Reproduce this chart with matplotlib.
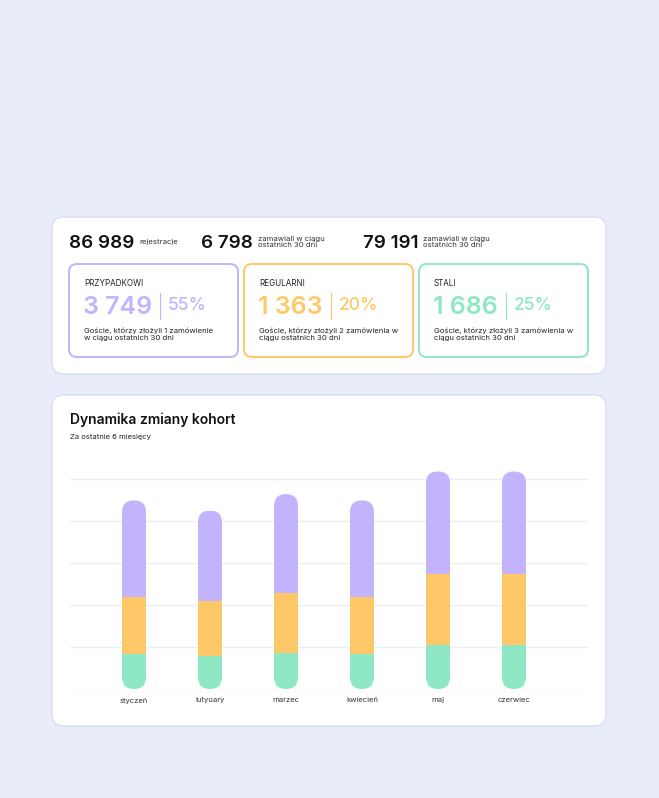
import matplotlib
matplotlib.use("Agg")
import matplotlib.pyplot as plt
from matplotlib.patches import FancyBboxPatch
from matplotlib.transforms import IdentityTransform

plt.rcParams['font.family'] = ['Inter', 'DejaVu Sans']

# data
months = ["styczeń", "lutyuary", "marzec", "kwiecień", "maj", "czerwiec"]
stali = [830, 790, 860, 830, 1050, 1050]
regularni = [1370, 1300, 1420, 1370, 1680, 1680]
przypadkowi = [2290, 2160, 2360, 2290, 2450, 2450]

top_values = ["86 989", "6 798", "79 191"]
top_labels = ["rejestracje", "zamawiali w ciągu\nostatnich 30 dni", "zamawiali w ciągu\nostatnich 30 dni"]

cohort_names = ["PRZYPADKOWI", "REGULARNI", "STALI"]
cohort_values = ["3 749", "1 363", "1 686"]
cohort_pct = ["55%", "20%", "25%"]
cohort_desc = ["Goście, którzy złożyli 1 zamówienie\nw ciągu ostatnich 30 dni",
               "Goście, którzy złożyli 2 zamówienia w\nciągu ostatnich 30 dni",
               "Goście, którzy złożyli 3 zamówienia w\nciągu ostatnich 30 dni"]

PURPLE = "#c3b3fd"
ORANGE = "#fec868"
GREEN = "#8de8c3"
cohort_colors = [PURPLE, ORANGE, GREEN]

W, H = 659, 798
fig = plt.figure(figsize=(W / 100, H / 100), dpi=100)
fig.patch.set_facecolor("#e9edf9")

# background axes in pixel units (origin top-left)
bg = fig.add_axes([0, 0, 1, 1])
bg.set_xlim(0, W)
bg.set_ylim(H, 0)
bg.axis("off")


def card(x, y, w, h, r, edge, lw=1.0):
    p = FancyBboxPatch((x, y), w, h, boxstyle=f"round,pad=0,rounding_size={r}",
                       facecolor="white", edgecolor=edge, linewidth=lw)
    bg.add_patch(p)


card(52, 217, 554, 157, 12, "#d8def6")
card(52, 395, 554, 331, 12, "#d8def6")

# top row of numbers
num_x = [69, 201, 363]
lab_x = [139, 258, 423]
for i in range(3):
    bg.text(num_x[i], 243, top_values[i], fontsize=13.5, fontweight="semibold",
            color="#111111", va="center", ha="left")
    bg.text(lab_x[i], 242, top_labels[i], fontsize=5.6, color="#333333",
            va="center", ha="left", linespacing=1.0)

# cohort boxes
box_x = [69, 244, 419]
fig.canvas.draw()
for i in range(3):
    bx = box_x[i]
    p = FancyBboxPatch((bx, 264), 169, 93, boxstyle="round,pad=0,rounding_size=8",
                       facecolor="white", edgecolor=cohort_colors[i], linewidth=1.4)
    bg.add_patch(p)
    bg.text(bx + 15, 283, cohort_names[i], fontsize=5.8, color="#222222",
            va="center", ha="left")
    t = bg.text(bx + 14, 307, cohort_values[i], fontsize=18, fontweight="semibold",
                color=cohort_colors[i], va="center", ha="left")
    bb = t.get_window_extent(renderer=fig.canvas.get_renderer())
    xend = bg.transData.inverted().transform((bb.x1, bb.y0))[0]
    bg.plot([xend + 8, xend + 8], [293, 319], color=cohort_colors[i], lw=0.8)
    bg.text(xend + 16, 306, cohort_pct[i], fontsize=12.5, fontweight="medium",
            color=cohort_colors[i], va="center", ha="left")
    bg.text(bx + 15, 334, cohort_desc[i], fontsize=5.6, color="#222222",
            va="center", ha="left", linespacing=1.2)

# chart header
bg.text(70, 420, "Dynamika zmiany kohort", fontsize=10, fontweight="semibold",
        color="#111111", va="center", ha="left")
bg.text(70, 437, "Za ostatnie 6 miesięcy", fontsize=5.5, color="#222222",
        va="center", ha="left")

# chart axes: baseline at y=689 px, 42 px per 1000
ax_left, ax_right = 70, 588
base_px = 689
px_per_unit = 42 / 1000
ymax = 5500
ax_top = base_px - ymax * px_per_unit
ax = fig.add_axes([ax_left / W, (H - base_px) / H, (ax_right - ax_left) / W,
                   (base_px - ax_top) / H])
ax.patch.set_alpha(0)
xmin = -64 / 76
xmax = xmin + (ax_right - ax_left) / 76
ax.set_xlim(xmin, xmax)
ax.set_ylim(0, ymax)
for s in ax.spines.values():
    s.set_visible(False)
ax.set_yticks([0, 1000, 2000, 3000, 4000, 5000])
ax.set_yticklabels([])
ax.tick_params(length=0)
ax.grid(axis="y", color="#eceef4", linewidth=1.0)
ax.set_axisbelow(True)
x = list(range(len(months)))
ax.set_xticks(x)
ax.set_xticklabels(months, fontsize=5.5, color="#333333")
ax.tick_params(axis="x", pad=6)

bw = 24 / 76
b1 = ax.bar(x, stali, width=bw, color=GREEN)
bottom2 = stali
b2 = ax.bar(x, regularni, width=bw, bottom=bottom2, color=ORANGE)
bottom3 = [a + b for a, b in zip(stali, regularni)]
b3 = ax.bar(x, przypadkowi, width=bw, bottom=bottom3, color=PURPLE)

# round the ends of each stacked bar
fig.canvas.draw()
for i in x:
    total = stali[i] + regularni[i] + przypadkowi[i]
    x0, y0 = ax.transData.transform((i - bw / 2, 0))
    x1, y1 = ax.transData.transform((i + bw / 2, total))
    clip = FancyBboxPatch((x0, y0), x1 - x0, y1 - y0,
                          boxstyle=f"round,pad=0,rounding_size={(x1 - x0) / 2}",
                          transform=IdentityTransform(), facecolor="none", edgecolor="none")
    for bars in (b1, b2, b3):
        bars[i].set_clip_path(clip)

fig.savefig("out.png", dpi=100, facecolor=fig.get_facecolor())
